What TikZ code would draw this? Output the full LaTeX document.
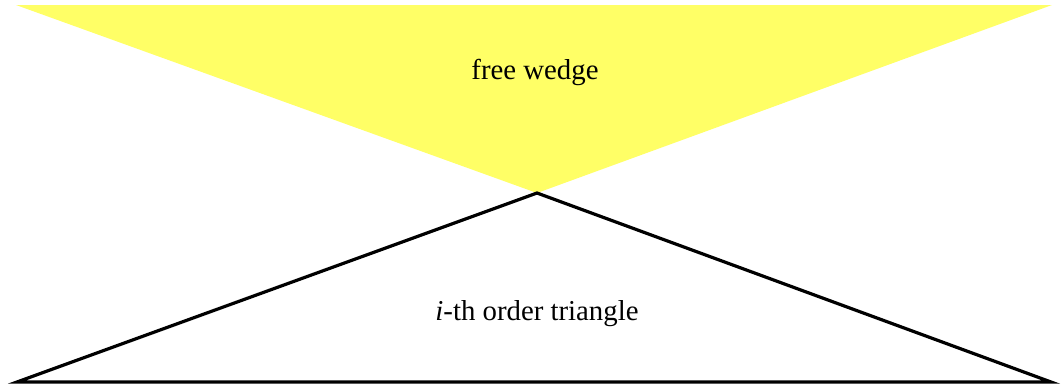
\documentclass[tikz,border=0pt]{standalone}
\usepackage{fontspec}
\setmainfont{Liberation Serif}
\definecolor{wedgeyellow}{HTML}{FFFF66}
\begin{document}
\begin{tikzpicture}[x=1pt,y=-1pt,
  lbl/.style={font=\fontsize{28.8}{34}\selectfont, inner sep=0pt},
  tri/.style={draw=black, line width=3.2pt, line join=miter}]
\useasboundingbox (0,0) rectangle (1064,389);
\coordinate (wl) at (16,5);
\coordinate (wr) at (1052,5);
\coordinate (apex) at (537,193);
\coordinate (bl) at (17,382);
\coordinate (br) at (1051,382);
\fill[wedgeyellow] (wl) -- (wr) -- (apex) -- cycle;
\draw[tri] (apex) -- (bl) -- (br) -- cycle;
\node[lbl] (fw) at (535,72) {free wedge};
\node[lbl] (it) at (537,314) {\textit{i}-th order triangle};
\end{tikzpicture}
\end{document}
